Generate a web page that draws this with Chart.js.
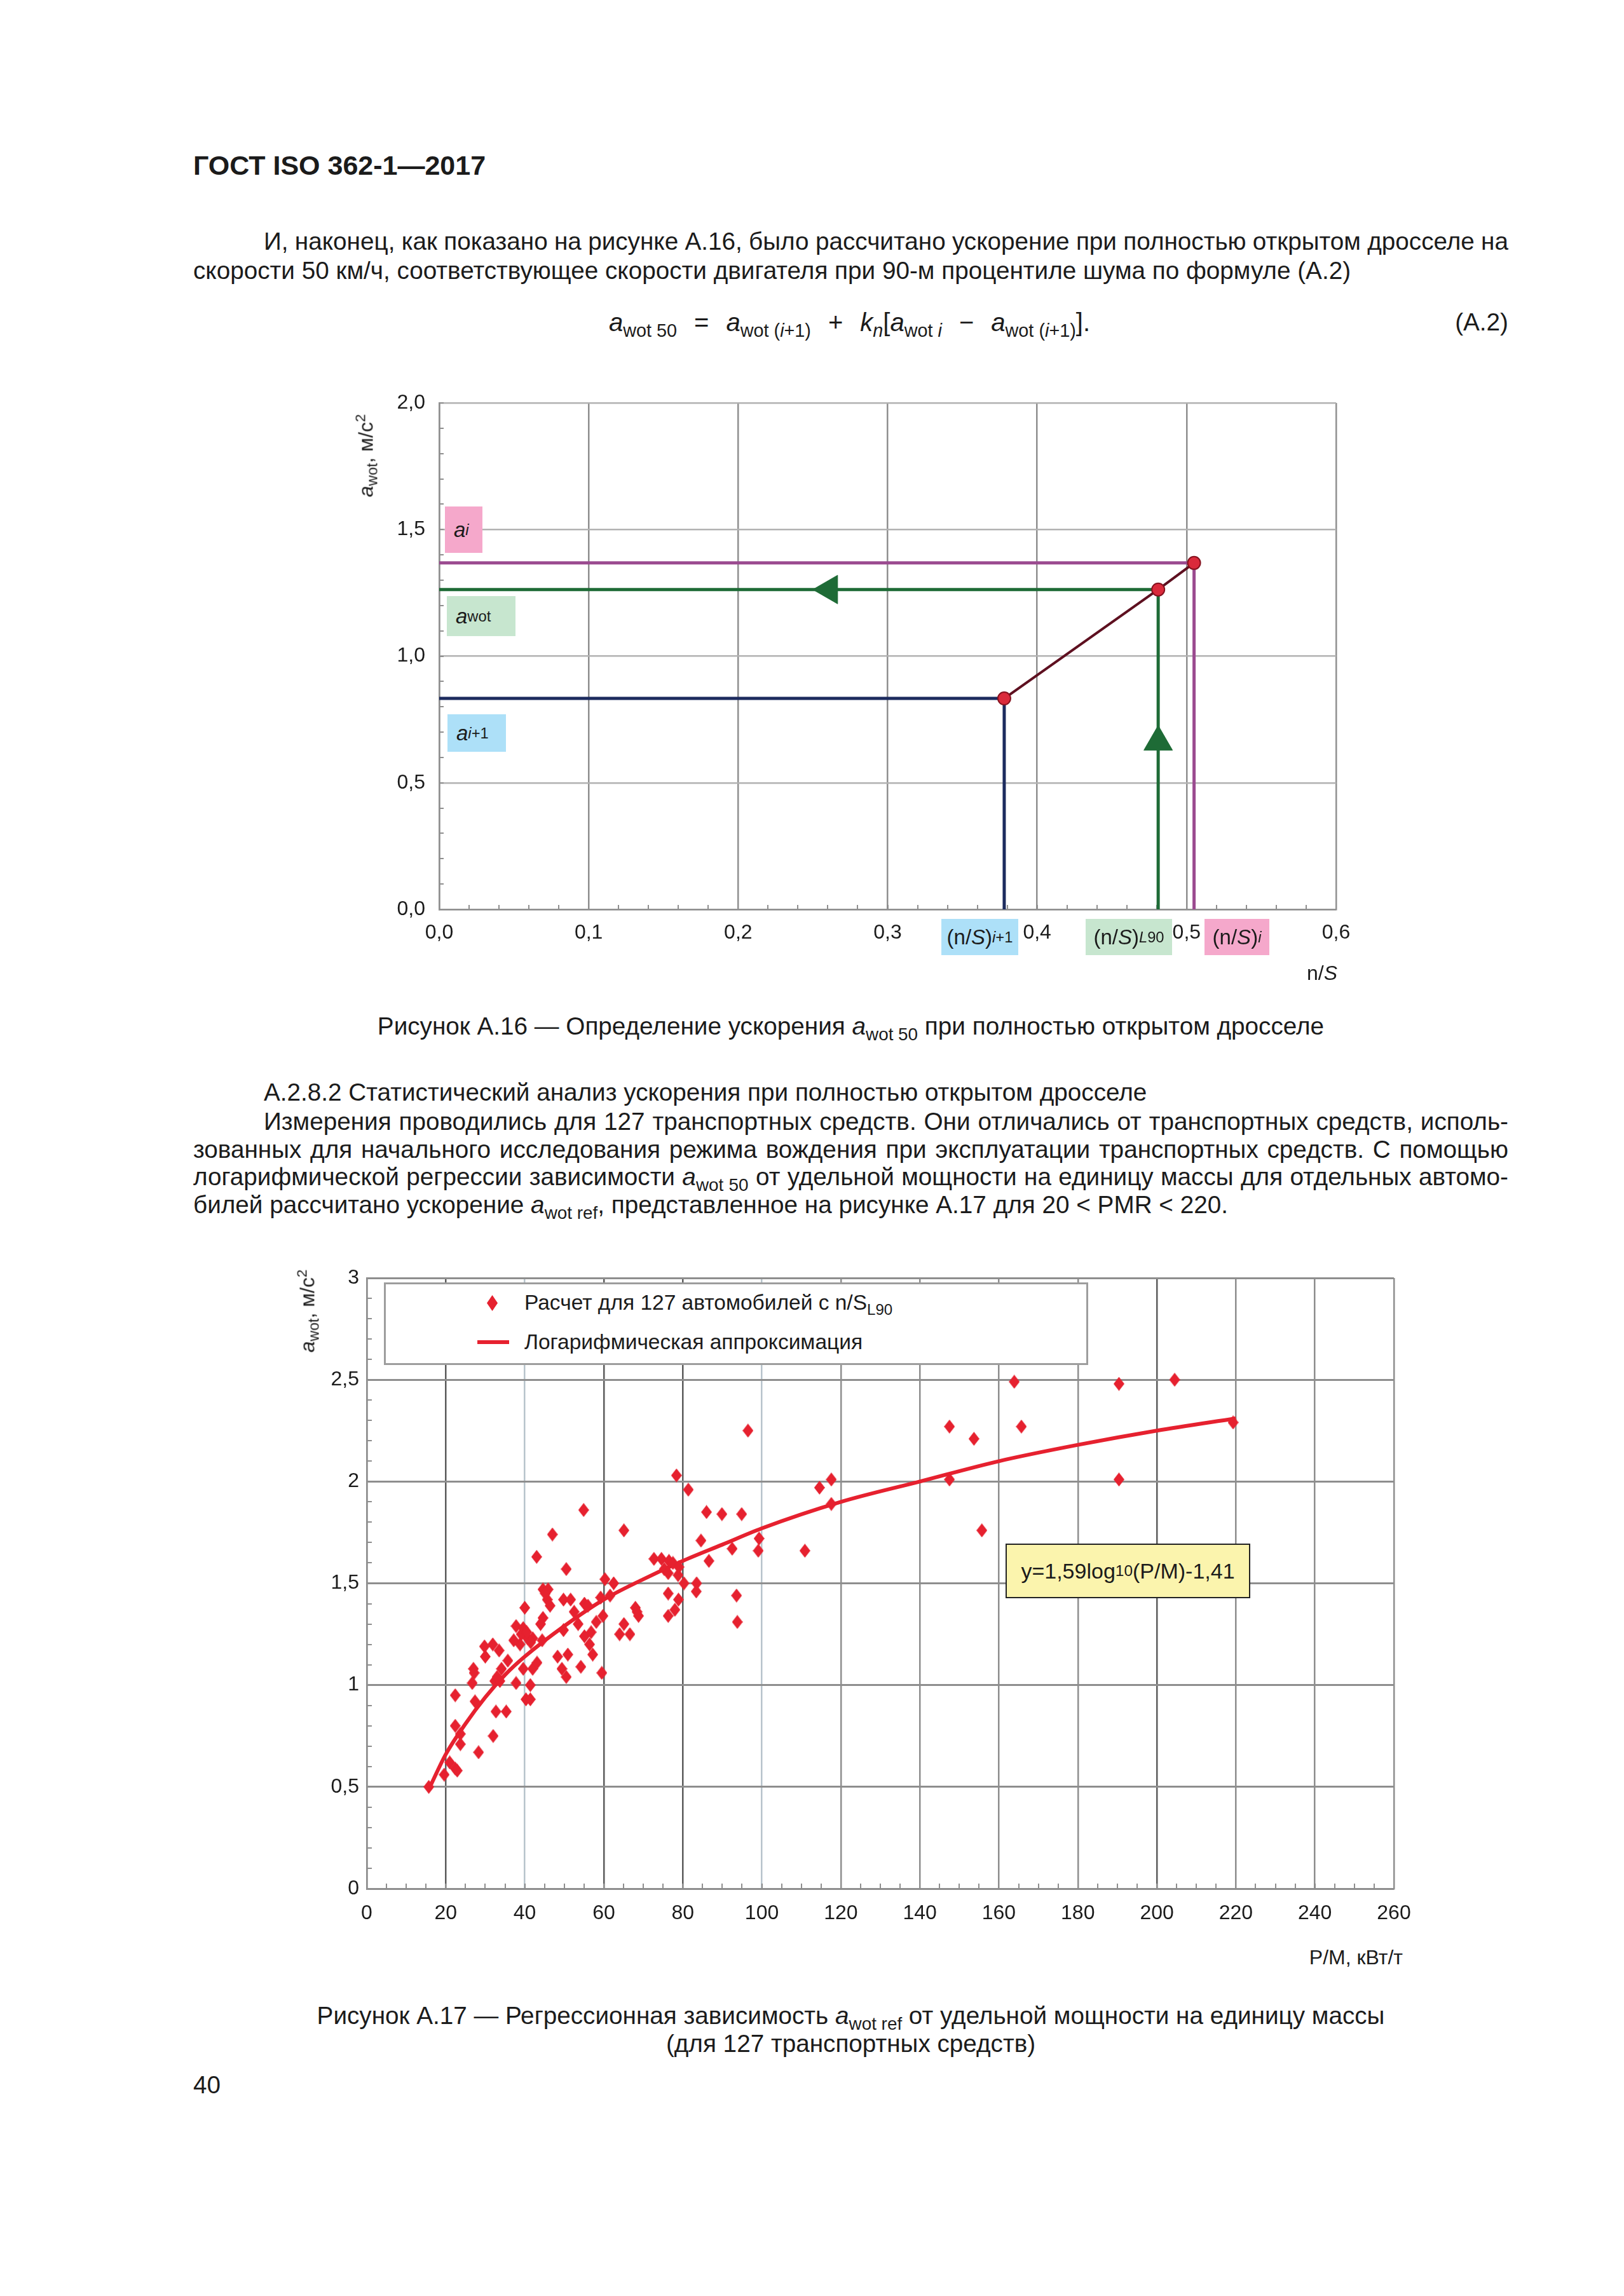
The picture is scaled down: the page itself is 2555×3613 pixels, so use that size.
<!DOCTYPE html>
<html lang="ru">
<head>
<meta charset="utf-8">
<title>ГОСТ ISO 362-1—2017, рисунки А.16 и А.17</title>
<script src="https://cdn.jsdelivr.net/npm/chart.js@4.4.1/dist/chart.umd.min.js"></script>
<style>
  body { margin: 0; background: #fff; }
  #page { position: relative; width: 2555px; height: 3613px; overflow: hidden;
          font-family: "Liberation Sans", Arial, sans-serif; color: #1b1b1b; }
  .t { position: absolute; white-space: nowrap; font-size: 38.7px; line-height: 44px; }
  .just { white-space: normal; text-align: justify; text-align-last: justify; word-spacing: -5px; }
  sub { font-size: 0.72em; vertical-align: -0.32em; line-height: 0; }
  sup { font-size: 0.7em; vertical-align: 0.55em; line-height: 0; }
  .op { margin: 0 27px; }
  canvas { position: absolute; }
  .box { position: absolute; display: flex; align-items: center; font-size: 33px; white-space: nowrap; }
  .ytitle { position: absolute; transform: translate(-50%, -50%) rotate(-90deg);
            font-size: 32px; white-space: nowrap; }
  .lbl { position: absolute; font-size: 32px; line-height: 40px; white-space: nowrap; }
</style>
</head>
<body>
<div id="page">
  <div class="t" style="left:304px;top:236px;font-size:43px;line-height:48px;font-weight:bold">ГОСТ ISO 362-1—2017</div>

  <div class="t just" style="left:415px;top:358px;width:1958px">И, наконец, как показано на рисунке А.16, было рассчитано ускорение при полностью открытом дросселе на</div>
  <div class="t" style="left:304px;top:404px">скорости 50 км/ч, соответствующее скорости двигателя при 90-м процентиле шума по формуле (А.2)</div>

  <div class="t" style="left:958px;top:485px;font-size:40px"><i>a</i><sub>wot 50</sub><span class="op">=</span><i>a</i><sub>wot (<i>i</i>+1)</sub><span class="op">+</span><i>k<sub>n</sub></i>[<i>a</i><sub>wot <i>i</i></sub><span class="op">−</span><i>a</i><sub>wot (<i>i</i>+1)</sub>].</div>
  <div class="t" style="right:182px;top:485px">(А.2)</div>

  <!-- Рисунок А.16 -->
  <canvas id="chart16" width="1600" height="980" style="left:560px;top:600px"></canvas>
  <div class="ytitle" style="left:576px;top:717px"><i>a</i><sub>wot</sub>, м/с<sup>2</sup></div>
  <div class="box" style="left:700px;top:797px;width:59px;height:73px;background:#f5a8cb;padding-left:14px;box-sizing:border-box"><i>a</i><sub><i>i</i></sub></div>
  <div class="box" style="left:703px;top:938px;width:108px;height:63px;background:#c7e6cf;padding-left:14px;box-sizing:border-box"><i>a</i><sub>wot</sub></div>
  <div class="box" style="left:704px;top:1124px;width:92px;height:59px;background:#ade0f8;padding-left:14px;box-sizing:border-box"><i>a</i><sub><i>i</i>+1</sub></div>
  <div class="box" style="left:1481px;top:1446px;width:121px;height:57px;background:#ade0f8;justify-content:center">(n/<i>S</i>)<sub><i>i</i>+1</sub></div>
  <div class="box" style="left:1708px;top:1446px;width:136px;height:57px;background:#c7e6cf;justify-content:center">(n/<i>S</i>)<sub><i>L</i>90</sub></div>
  <div class="box" style="left:1895px;top:1446px;width:102px;height:57px;background:#f5a8cb;justify-content:center">(n/<i>S</i>)<sub><i>i</i></sub></div>
  <div class="lbl" style="left:2056px;top:1511px">n/<i>S</i></div>

  <div class="t" style="left:304px;top:1593px;width:2069px;text-align:center">Рисунок А.16 — Определение ускорения <i>a</i><sub>wot 50</sub> при полностью открытом дросселе</div>

  <div class="t" style="left:415px;top:1697px">А.2.8.2 Статистический анализ ускорения при полностью открытом дросселе</div>
  <div class="t just" style="left:415px;top:1743px;width:1958px">Измерения проводились для 127 транспортных средств. Они отличались от транспортных средств, исполь-</div>
  <div class="t just" style="left:304px;top:1787px;width:2069px">зованных для начального исследования режима вождения при эксплуатации транспортных средств. С помощью</div>
  <div class="t just" style="left:304px;top:1830px;width:2069px">логарифмической регрессии зависимости <i>a</i><sub>wot 50</sub> от удельной мощности на единицу массы для отдельных автомо-</div>
  <div class="t" style="left:304px;top:1874px">билей рассчитано ускорение <i>a</i><sub>wot ref</sub>, представленное на рисунке А.17 для 20 &lt; PMR &lt; 220.</div>

  <!-- Рисунок А.17 -->
  <canvas id="chart17" width="1760" height="1060" style="left:480px;top:1990px"></canvas>
  <div class="ytitle" style="left:484px;top:2063px"><i>a</i><sub>wot</sub>, м/с<sup>2</sup></div>
  <div style="position:absolute;left:604px;top:2018px;width:1108px;height:130px;box-sizing:border-box;border:3px solid #9d9d9d;background:#fff"></div>
  <div style="position:absolute;left:766px;top:2038px;width:17px;height:25px;background:#e6212f;clip-path:polygon(50% 0,100% 50%,50% 100%,0 50%)"></div>
  <div class="lbl" style="left:825px;top:2030px;font-size:33.5px">Расчет для 127 автомобилей с n/S<sub>L90</sub></div>
  <div style="position:absolute;left:751px;top:2109px;width:50px;height:6px;background:#e6212f"></div>
  <div class="lbl" style="left:825px;top:2092px;font-size:33.5px">Логарифмическая аппроксимация</div>
  <div class="box" style="left:1582px;top:2429px;width:385px;height:86px;box-sizing:border-box;border:2px solid #222;background:#fbf4ad;justify-content:center;font-size:34px">y=1,59log<sub>10</sub>(P/M)-1,41</div>
  <div class="lbl" style="right:348px;top:3060px">Р/М, кВт/т</div>

  <div class="t" style="left:304px;top:3150px;width:2069px;text-align:center">Рисунок А.17 — Регрессионная зависимость <i>a</i><sub>wot ref</sub> от удельной мощности на единицу массы</div>
  <div class="t" style="left:304px;top:3194px;width:2069px;text-align:center">(для 127 транспортных средств)</div>

  <div class="t" style="left:304px;top:3259px">40</div>
</div>

<script>
// Рисунок А.16: точки (n/S; a) и стрелки
const nsValues = [0.378, 0.481, 0.505]; // (n/S)i+1, (n/S)L90, (n/S)i
const accValues = [0.833, 1.263, 1.368]; // ai+1, awot, ai
const arrowLeftAt = [0.261, 1.263];
const arrowUpAt = [0.481, 0.661];
const xTicks16 = [0, 0.1, 0.2, 0.3, 0.4, 0.5, 0.6];
const yTicks16 = [0, 0.5, 1.0, 1.5, 2.0];

// Рисунок А.17: 127 автомобилей
const pmr = [
  96.5, 78.4, 81.4, 117.6, 114.6, 117.6, 54.9, 65.1, 47.0, 86.0,
  89.9, 94.9, 84.6, 92.5, 99.3, 99.1, 110.9, 86.6, 43.0, 50.5,
  72.7, 74.6, 76.5, 75.3, 76.3, 78.8, 80.3, 83.5, 83.4, 76.3,
  78.9, 78.0, 76.3, 93.6, 93.8, 60.3, 62.5, 61.6, 59.2, 44.6,
  45.9, 45.7, 46.4, 49.8, 51.6, 55.1, 52.5, 53.5, 49.8, 55.1,
  56.8, 58.1, 59.8, 65.1, 64.0, 66.6, 68.0, 68.8, 40.0, 44.6,
  44.0, 37.8, 39.6, 40.7, 38.8, 42.0, 44.4, 37.2, 39.1, 29.8,
  31.9, 30.0, 33.5, 35.7, 34.1, 27.0, 26.7, 32.4, 33.7, 37.8,
  39.6, 42.0, 43.1, 41.4, 40.3, 41.4, 48.3, 49.4, 50.5, 50.9,
  54.2, 57.2, 56.4, 59.5, 22.4, 27.4, 32.7, 35.3, 22.4, 23.7,
  23.7, 32.0, 28.3, 21.0, 22.4, 19.6, 163.9, 190.4, 204.5, 147.5,
  165.7, 153.7, 219.3, 147.5, 190.4, 155.7, 15.7, 40.5, 41.5, 45.2,
  22.9, 77.5, 79.0, 33.0, 27.2, 56.0, 68.4
];
const awot = [
  2.25, 2.03, 1.96, 2.01, 1.97, 1.89, 1.86, 1.76, 1.74, 1.85,
  1.84, 1.84, 1.71, 1.67, 1.72, 1.66, 1.66, 1.61, 1.63, 1.57,
  1.62, 1.62, 1.61, 1.57, 1.55, 1.54, 1.50, 1.50, 1.46, 1.45,
  1.42, 1.37, 1.34, 1.44, 1.31, 1.52, 1.50, 1.44, 1.43, 1.47,
  1.47, 1.42, 1.39, 1.42, 1.42, 1.40, 1.36, 1.30, 1.27, 1.24,
  1.26, 1.31, 1.34, 1.30, 1.25, 1.25, 1.38, 1.34, 1.38, 1.33,
  1.30, 1.29, 1.28, 1.23, 1.20, 1.23, 1.22, 1.22, 1.25, 1.19,
  1.20, 1.14, 1.17, 1.12, 1.08, 1.08, 1.01, 1.02, 1.02, 1.01,
  1.08, 1.08, 1.11, 1.00, 0.93, 0.93, 1.14, 1.08, 1.04, 1.15,
  1.09, 1.15, 1.20, 1.06, 0.95, 0.92, 0.87, 0.87, 0.80, 0.76,
  0.71, 0.75, 0.67, 0.62, 0.59, 0.56, 2.49, 2.48, 2.50, 2.27,
  2.27, 2.21, 2.29, 2.01, 2.01, 1.76, 0.50, 1.26, 1.21, 1.45,
  0.58, 1.60, 1.58, 1.04, 1.06, 1.39, 1.36
];
const fitPmr = [16, 20, 25, 30, 35, 40, 50, 60, 70, 80, 90, 100, 120, 140, 160, 180, 200, 220];
const fitAwot = [0.50, 0.66, 0.81, 0.94, 1.05, 1.14, 1.29, 1.42, 1.52, 1.61, 1.69, 1.77, 1.90, 2.00, 2.10, 2.18, 2.25, 2.31];
const xTicks17 = [0, 20, 40, 60, 80, 100, 120, 140, 160, 180, 200, 220, 240, 260];
const yTicks17 = [0, 0.5, 1, 1.5, 2, 2.5, 3];

Chart.defaults.font.family = "'Liberation Sans', Arial, sans-serif";
Chart.defaults.color = "#1b1b1b";

const comma = (v, digits) => (digits == null ? String(v) : v.toFixed(digits)).replace(".", ",");

// fixed axis size, no extra label padding at the ends
const fixWidth = (w) => (s) => { s.width = w; s.paddingTop = 0; s.paddingBottom = 0; };
const fixHeight = (h) => (s) => { s.height = h; };

// small ticks inside the plot along the bottom and left axes
function minorTicks(xStep, yStep, len, color) {
  return {
    id: "minorTicks",
    beforeDatasetsDraw(chart) {
      const { ctx, chartArea, scales } = chart;
      ctx.save();
      ctx.strokeStyle = color;
      ctx.lineWidth = 2;
      ctx.beginPath();
      for (let v = scales.x.min; v <= scales.x.max + 1e-9; v += xStep) {
        const px = Math.round(scales.x.getPixelForValue(v));
        ctx.moveTo(px, chartArea.bottom);
        ctx.lineTo(px, chartArea.bottom - len);
      }
      for (let v = scales.y.min; v <= scales.y.max + 1e-9; v += yStep) {
        const py = Math.round(scales.y.getPixelForValue(v));
        ctx.moveTo(chartArea.left, py);
        ctx.lineTo(chartArea.left + len, py);
      }
      ctx.stroke();
      ctx.restore();
    },
  };
}

// Chart A.16
const lineColors16 = ["#1c2b5e", "#1e6b36", "#9b4b90"];
const datasets16 = [
  {
    data: nsValues.map((ns, i) => ({ x: ns, y: accValues[i] })),
    showLine: true,
    borderColor: "#5e1020",
    borderWidth: 4,
    pointRadius: 10,
    pointBackgroundColor: "#da2a3b",
    pointBorderColor: "#86121f",
    pointBorderWidth: 2,
    order: 0,
  },
  {
    data: [{ x: arrowLeftAt[0], y: arrowLeftAt[1] }],
    pointStyle: "triangle",
    rotation: 270,
    pointRadius: 26,
    pointBackgroundColor: "#1e6b36",
    pointBorderColor: "#1e6b36",
    order: 1,
  },
  {
    data: [{ x: arrowUpAt[0], y: arrowUpAt[1] }],
    pointStyle: "triangle",
    pointRadius: 26,
    pointBackgroundColor: "#1e6b36",
    pointBorderColor: "#1e6b36",
    order: 1,
  },
];
nsValues.forEach((ns, i) => {
  datasets16.push({
    data: [
      { x: 0, y: accValues[i] },
      { x: ns, y: accValues[i] },
      { x: ns, y: 0 },
    ],
    showLine: true,
    borderColor: lineColors16[i],
    borderWidth: 5,
    pointRadius: 0,
    order: 2,
  });
});

new Chart(document.getElementById("chart16"), {
  type: "scatter",
  data: { datasets: datasets16 },
  options: {
    responsive: false,
    animation: false,
    events: [],
    layout: { padding: { top: 34, right: 58, left: 0, bottom: 0 } },
    scales: {
      x: {
        type: "linear",
        min: 0,
        max: 0.6,
        afterBuildTicks: (s) => { s.ticks = xTicks16.map((v) => ({ value: v })); },
        afterFit: fixHeight(149),
        ticks: { callback: (v) => comma(v, 1), font: { size: 32 }, padding: 18, maxRotation: 0, autoSkip: false },
        grid: { color: "#8f8f8f", lineWidth: 2.5, drawTicks: false },
        border: { color: "#8f8f8f", width: 2.5 },
      },
      y: {
        min: 0,
        max: 2,
        afterBuildTicks: (s) => { s.ticks = yTicks16.map((v) => ({ value: v })); },
        afterFit: fixWidth(131),
        ticks: { callback: (v) => comma(v, 1), font: { size: 32 }, padding: 22 },
        grid: { color: "#b2b2b2", lineWidth: 2.5, drawTicks: false },
        border: { color: "#8f8f8f", width: 2.5 },
      },
    },
    plugins: { legend: { display: false }, tooltip: { enabled: false } },
  },
  plugins: [minorTicks(0.02, 0.1, 7, "#8f8f8f")],
});

// Chart A.17
function diamond(w, h, color) {
  const c = document.createElement("canvas");
  c.width = w;
  c.height = h;
  const g = c.getContext("2d");
  g.fillStyle = color;
  g.beginPath();
  g.moveTo(w / 2, 0);
  g.lineTo(w, h / 2);
  g.lineTo(w / 2, h);
  g.lineTo(0, h / 2);
  g.closePath();
  g.fill();
  return c;
}

const darkGrid = [20, 60, 80, 200];
const lightGrid = [40, 100];

new Chart(document.getElementById("chart17"), {
  type: "scatter",
  data: {
    datasets: [
      {
        data: pmr.map((p, i) => ({ x: p, y: awot[i] })),
        pointStyle: diamond(17, 22, "#e6212f"),
        order: 0,
      },
      {
        data: fitPmr.map((p, i) => ({ x: p, y: fitAwot[i] })),
        showLine: true,
        borderColor: "#e6212f",
        borderWidth: 6,
        pointRadius: 0,
        cubicInterpolationMode: "monotone",
        order: 1,
      },
    ],
  },
  options: {
    responsive: false,
    animation: false,
    events: [],
    layout: { padding: { top: 21, right: 47, left: 0, bottom: 0 } },
    scales: {
      x: {
        type: "linear",
        min: 0,
        max: 260,
        afterBuildTicks: (s) => { s.ticks = xTicks17.map((v) => ({ value: v })); },
        afterFit: fixHeight(78),
        ticks: { font: { size: 32 }, padding: 20, maxRotation: 0, autoSkip: false },
        grid: {
          lineWidth: 2.5,
          drawTicks: false,
          color: (c) => {
            const v = c.tick ? c.tick.value : null;
            if (darkGrid.includes(v)) return "#5c5c5c";
            if (lightGrid.includes(v)) return "#b8c4cc";
            return "#8e8e8e";
          },
        },
        border: { color: "#8e8e8e", width: 2.5 },
      },
      y: {
        min: 0,
        max: 3,
        afterBuildTicks: (s) => { s.ticks = yTicks17.map((v) => ({ value: v })); },
        afterFit: fixWidth(97),
        ticks: { callback: (v) => comma(v), font: { size: 32 }, padding: 12 },
        grid: { color: "#8e8e8e", lineWidth: 3, drawTicks: false },
        border: { color: "#8e8e8e", width: 2.5 },
      },
    },
    plugins: { legend: { display: false }, tooltip: { enabled: false } },
  },
  plugins: [minorTicks(5, 0.1, 8, "#8e8e8e")],
});
</script>
</body>
</html>
